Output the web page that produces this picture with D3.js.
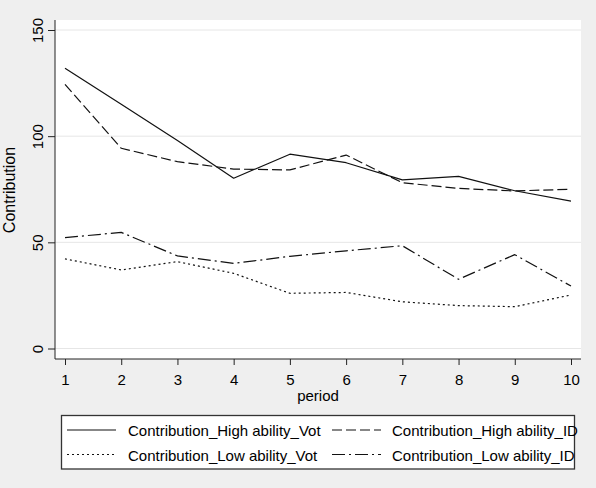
<!DOCTYPE html>
<html>
<head>
<meta charset="utf-8">
<script src="https://cdn.jsdelivr.net/npm/d3@7"></script>
<style>
  body { margin: 0; background: #efefef; }
  svg { display: block; font-family: Arial, "Liberation Sans", sans-serif; }
</style>
</head>
<body>
<svg id="chart" width="596" height="488"></svg>
<script>
const periods = [1, 2, 3, 4, 5, 6, 7, 8, 9, 10];
const yTicks = [0, 50, 100, 150];

const highVot = [132, 115, 98, 80.2, 91.5, 87.5, 79.4, 81.1, 74.3, 69.4];
const highID = [124.4, 94.3, 88, 84.5, 84.1, 91.1, 78.1, 75.4, 74.2, 75];
const lowVot = [42.2, 37, 40.9, 35.4, 26, 26.4, 22, 20.2, 19.7, 25.2];
const lowID = [52.2, 54.7, 43.6, 40.1, 43.4, 46, 48.4, 32.6, 44.2, 29.4];

const seriesNames = [
  "Contribution_High ability_Vot",
  "Contribution_High ability_ID",
  "Contribution_Low ability_Vot",
  "Contribution_Low ability_ID",
];

const svg = d3.select("#chart");
const plot = { left: 55, right: 581, top: 20, bottom: 359 };

const x = d3.scaleLinear().domain([1, 10]).range([65, 571]);
const y = d3.scaleLinear().domain([0, 150]).range([348.5, 30]);

// plot region
svg.append("rect")
  .attr("x", plot.left).attr("y", plot.top)
  .attr("width", plot.right - plot.left).attr("height", plot.bottom - plot.top)
  .attr("fill", "#fff");

// gridlines
svg.append("g")
  .selectAll("line")
  .data(yTicks)
  .join("line")
  .attr("x1", plot.left).attr("x2", plot.right)
  .attr("y1", (d) => y(d)).attr("y2", (d) => y(d))
  .attr("stroke", "#e6e6e6")
  .attr("stroke-width", 1);

// y axis
const yAxis = svg.append("g")
  .attr("transform", `translate(${plot.left},0)`)
  .call(d3.axisLeft(y).tickValues(yTicks).tickSize(7).tickSizeOuter(0));
yAxis.select(".domain").attr("d", `M0,${plot.top}V${plot.bottom}`);
yAxis.selectAll("text")
  .attr("x", null).attr("dy", null)
  .attr("transform", "translate(-12,0) rotate(-90)")
  .attr("text-anchor", "middle")
  .style("font-size", "15px")
  .style("font-family", "Arial, 'Liberation Sans', sans-serif");

// x axis
const xAxis = svg.append("g")
  .attr("transform", `translate(0,${plot.bottom})`)
  .call(d3.axisBottom(x).tickValues(periods).tickFormat(d3.format("d")).tickSize(6).tickSizeOuter(0));
xAxis.select(".domain").attr("d", `M${plot.left},0H${plot.right}`);
xAxis.selectAll("text")
  .attr("y", 26).attr("dy", null)
  .style("font-size", "15px")
  .style("font-family", "Arial, 'Liberation Sans', sans-serif");

svg.selectAll(".domain, .tick line").attr("stroke", "#222");

// axis titles
svg.append("text")
  .text("Contribution")
  .attr("transform", "translate(15,190) rotate(-90)")
  .attr("text-anchor", "middle")
  .style("font-size", "16px");

svg.append("text")
  .text("period")
  .attr("x", (x(1) + x(10)) / 2).attr("y", 401)
  .attr("text-anchor", "middle")
  .style("font-size", "15px");

// series lines
const dashes = [null, "10,4", "2,3", "13,4,2,4"];
const allSeries = [highVot, highID, lowVot, lowID];

const line = d3.line()
  .x((d, i) => x(periods[i]))
  .y((d) => y(d));

svg.append("g")
  .selectAll("path")
  .data(allSeries)
  .join("path")
  .attr("fill", "none")
  .attr("stroke", "#111")
  .attr("stroke-width", 1.2)
  .attr("stroke-linejoin", "round")
  .attr("stroke-dasharray", (d, i) => dashes[i])
  .attr("d", line);

// legend
const legend = svg.append("g");
legend.append("rect")
  .attr("x", 61.5).attr("y", 415.5)
  .attr("width", 513).attr("height", 53.5)
  .attr("fill", "#fff")
  .attr("stroke", "#333")
  .attr("stroke-width", 1.3);

const legendPos = [
  { lx: 67, tx: 128, row: 0 },
  { lx: 332, tx: 392, row: 0 },
  { lx: 67, tx: 128, row: 1 },
  { lx: 332, tx: 392, row: 1 },
];

seriesNames.forEach((name, i) => {
  const p = legendPos[i];
  const ly = 430 + p.row * 24.5;
  legend.append("line")
    .attr("x1", p.lx).attr("x2", p.lx + 49)
    .attr("y1", ly).attr("y2", ly)
    .attr("stroke", "#111")
    .attr("stroke-width", 1.2)
    .attr("stroke-dasharray", dashes[i]);
  legend.append("text")
    .text(name)
    .attr("x", p.tx).attr("y", ly + 6)
    .style("font-size", "15px");
});
</script>
</body>
</html>
